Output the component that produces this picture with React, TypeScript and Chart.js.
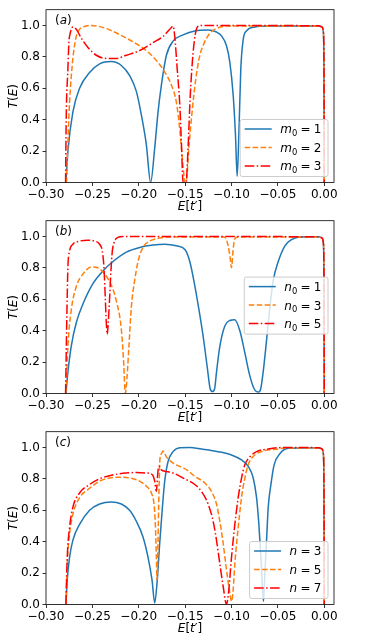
import React, { useEffect, useRef } from 'react';
import { Chart, registerables } from 'chart.js';
Chart.register(...registerables);

// ---------- axes ----------
const X_TICKS = [-0.3, -0.25, -0.2, -0.15, -0.1, -0.05, 0.0];
const Y_TICKS = [0, 0.2, 0.4, 0.6, 0.8, 1.0];
const X_MIN = -0.3;
const X_MAX = 0.0105;
const Y_MIN = 0;
const Y_MAX = 1.1;

// ---------- panel (a): m0 = 1, 2, 3 ----------
const eA1 = [-0.2785,-0.2764,-0.2710,-0.2638,-0.2530,-0.2422,-0.2296,-0.2188,-0.2098,-0.2026,-0.1972,-0.1918,-0.1872,-0.1828,-0.1792,-0.1756,-0.1702,-0.1630,-0.1522,-0.1396,-0.1252,-0.1162,-0.1108,-0.1054,-0.1018,-0.0982,-0.0957,-0.0939,-0.0921,-0.0900,-0.0874,-0.0838,-0.0748,-0.0604,-0.0060,-0.0025,-0.0010,-0.0003,0];
const tA1 = [0,0.20,0.45,0.60,0.70,0.755,0.77,0.745,0.68,0.58,0.43,0.24,0.0,0.22,0.45,0.62,0.81,0.90,0.94,0.965,0.97,0.958,0.933,0.87,0.765,0.556,0.30,0.04,0.30,0.72,0.91,0.965,0.99,0.996,0.996,0.99,0.96,0.70,0];
const eA2 = [-0.2780,-0.2761,-0.2746,-0.2710,-0.2674,-0.2638,-0.2575,-0.2512,-0.2350,-0.2170,-0.1990,-0.1846,-0.1738,-0.1648,-0.1594,-0.1555,-0.1525,-0.1500,-0.1482,-0.1460,-0.1425,-0.1385,-0.1345,-0.1300,-0.1234,-0.1144,-0.1036,-0.0060,-0.0025,-0.0010,-0.0003,0];
const tA2 = [0,0.30,0.51,0.79,0.93,0.975,0.995,1.0,0.98,0.93,0.87,0.80,0.72,0.62,0.51,0.32,0.12,0.0,0.03,0.22,0.45,0.66,0.80,0.88,0.95,0.985,0.996,0.996,0.99,0.96,0.70,0];
const eA3 = [-0.2789,-0.2782,-0.2764,-0.2753,-0.2739,-0.2710,-0.2674,-0.2620,-0.2548,-0.2458,-0.2350,-0.2242,-0.2134,-0.1990,-0.1846,-0.1738,-0.1666,-0.1630,-0.1612,-0.1585,-0.1558,-0.1540,-0.1522,-0.1490,-0.1470,-0.1445,-0.1415,-0.1385,-0.1360,-0.1300,-0.0060,-0.0025,-0.0010,-0.0003,0];
const tA3 = [0,0.41,0.72,0.89,0.95,0.99,0.975,0.92,0.86,0.81,0.79,0.79,0.81,0.84,0.89,0.93,0.975,0.995,0.93,0.72,0.50,0.25,0.0,0.0,0.2,0.55,0.82,0.96,0.995,1.0,0.998,0.99,0.96,0.70,0];

// ---------- panel (b): n0 = 1, 3, 5 ----------
const eB1 = [-0.2785,-0.2764,-0.2728,-0.2674,-0.2602,-0.2494,-0.2386,-0.2278,-0.2134,-0.1990,-0.1846,-0.1720,-0.1594,-0.1500,-0.1450,-0.1400,-0.1350,-0.1300,-0.1260,-0.1230,-0.1205,-0.1182,-0.1162,-0.1126,-0.1072,-0.1018,-0.0965,-0.0910,-0.0860,-0.0810,-0.0760,-0.0730,-0.0705,-0.0685,-0.0659,-0.0622,-0.0586,-0.0550,-0.0496,-0.0424,-0.0352,-0.0280,-0.0060,-0.0025,-0.0010,-0.0003,0];
const tB1 = [0,0.135,0.30,0.45,0.57,0.70,0.78,0.84,0.90,0.93,0.945,0.95,0.94,0.915,0.84,0.70,0.53,0.34,0.16,0.03,0.012,0.03,0.135,0.30,0.43,0.465,0.47,0.40,0.27,0.13,0.035,0.012,0.01,0.03,0.135,0.34,0.55,0.72,0.84,0.94,0.98,0.995,0.998,0.99,0.96,0.70,0];
const eB2 = [-0.2785,-0.2764,-0.2728,-0.2674,-0.2602,-0.2512,-0.2440,-0.2368,-0.2296,-0.2242,-0.2188,-0.2163,-0.2145,-0.2127,-0.2106,-0.2080,-0.2044,-0.2008,-0.1954,-0.1882,-0.1774,-0.1630,-0.1080,-0.1040,-0.1015,-0.1000,-0.0985,-0.0965,-0.0930,-0.0060,-0.0025,-0.0010,-0.0003,0];
const tB2 = [0,0.30,0.53,0.68,0.76,0.805,0.80,0.76,0.69,0.59,0.41,0.20,0.0,0.10,0.30,0.55,0.72,0.84,0.93,0.97,0.99,0.997,0.997,0.95,0.865,0.80,0.90,0.985,0.997,0.997,0.99,0.96,0.70,0];
const eB3 = [-0.2789,-0.2775,-0.2764,-0.2746,-0.2710,-0.2638,-0.2548,-0.2476,-0.2422,-0.2393,-0.2375,-0.2361,-0.2350,-0.2339,-0.2329,-0.2314,-0.2300,-0.2285,-0.2260,-0.2224,-0.2170,-0.0060,-0.0025,-0.0010,-0.0003,0];
const tB3 = [0,0.50,0.80,0.906,0.95,0.97,0.975,0.97,0.95,0.906,0.80,0.61,0.45,0.375,0.45,0.61,0.78,0.906,0.97,0.994,1.0,0.998,0.99,0.96,0.70,0];

// ---------- panel (c): n = 3, 5, 7 ----------
const eC1 = [-0.2785,-0.2771,-0.2746,-0.2710,-0.2638,-0.2530,-0.2422,-0.2296,-0.2188,-0.2098,-0.2026,-0.1954,-0.1900,-0.1857,-0.1828,-0.1803,-0.1774,-0.1745,-0.1720,-0.1684,-0.1630,-0.1558,-0.1450,-0.1324,-0.1144,-0.1000,-0.0892,-0.0820,-0.0766,-0.0730,-0.0705,-0.0683,-0.0665,-0.0655,-0.0640,-0.0622,-0.0604,-0.0576,-0.0540,-0.0479,-0.0388,-0.0060,-0.0025,-0.0010,-0.0003,0];
const tC1 = [0,0.157,0.30,0.41,0.51,0.60,0.64,0.653,0.64,0.60,0.53,0.43,0.30,0.157,0.01,0.136,0.39,0.62,0.785,0.91,0.973,0.998,1.0,0.99,0.973,0.952,0.92,0.88,0.805,0.68,0.51,0.30,0.094,0.02,0.20,0.41,0.62,0.76,0.89,0.96,0.994,0.998,0.99,0.96,0.70,0];
const eC2 = [-0.2785,-0.2771,-0.2746,-0.2710,-0.2638,-0.2530,-0.2422,-0.2314,-0.2206,-0.2098,-0.1990,-0.1918,-0.1864,-0.1836,-0.1821,-0.1810,-0.1803,-0.1792,-0.1782,-0.1771,-0.1756,-0.1738,-0.1702,-0.1630,-0.1522,-0.1477,-0.1396,-0.1288,-0.1216,-0.1162,-0.1126,-0.1090,-0.1054,-0.1018,-0.1000,-0.0982,-0.0964,-0.0928,-0.0892,-0.0856,-0.0820,-0.0784,-0.0730,-0.0640,-0.0496,-0.0424,-0.0060,-0.0025,-0.0010,-0.0003,0];
const tC2 = [0,0.26,0.45,0.575,0.68,0.74,0.785,0.805,0.81,0.805,0.785,0.753,0.71,0.64,0.51,0.30,0.157,0.41,0.72,0.93,0.96,0.977,0.94,0.90,0.87,0.855,0.816,0.774,0.72,0.64,0.53,0.39,0.22,0.073,0.02,0.094,0.26,0.49,0.68,0.805,0.89,0.93,0.96,0.98,0.99,0.997,0.997,0.99,0.96,0.70,0];
const eC3 = [-0.2785,-0.2771,-0.2746,-0.2710,-0.2638,-0.2530,-0.2422,-0.2314,-0.2170,-0.2026,-0.1918,-0.1853,-0.1828,-0.1810,-0.1796,-0.1785,-0.1756,-0.1702,-0.1630,-0.1522,-0.1396,-0.1324,-0.1252,-0.1198,-0.1162,-0.1126,-0.1090,-0.1054,-0.1029,-0.1000,-0.0964,-0.0928,-0.0892,-0.0856,-0.0802,-0.0730,-0.0604,-0.0424,-0.0060,-0.0025,-0.0010,-0.0003,0];
const tC3 = [0,0.30,0.49,0.62,0.71,0.764,0.80,0.82,0.835,0.84,0.837,0.826,0.785,0.72,0.826,0.88,0.857,0.847,0.837,0.805,0.764,0.72,0.64,0.53,0.41,0.26,0.115,0.0,0.094,0.30,0.51,0.68,0.805,0.89,0.94,0.973,0.99,1.0,0.998,0.99,0.96,0.70,0];

// ---------- legend labels ----------
const LABELS_A = ['1', '2', '3'];
const LABELS_B = ['1', '3', '5'];
const LABELS_C = ['3', '5', '7'];

const BLUE = '#1f77b4';
const ORANGE = '#ff7f0e';
const RED = '#ff0000';
const DASH_SOLID: number[] = [];
const DASH_DASHED = [5.55, 2.4];
const DASH_DASHDOT = [9.6, 2.4, 1.5, 2.4];
const STYLES = [
  { color: BLUE, dash: DASH_SOLID },
  { color: ORANGE, dash: DASH_DASHED },
  { color: RED, dash: DASH_DASHDOT },
];

const FAMILY = '"DejaVu Sans"';

type Run = { t: string; it?: boolean; sub?: boolean; gap?: number };

function runFont(r: Run, size: number) {
  const s = r.sub ? size * 0.7 : size;
  return `${r.it ? 'italic ' : ''}${s}px ${FAMILY}`;
}
function runsWidth(ctx: CanvasRenderingContext2D, runs: Run[], size: number) {
  let w = 0;
  for (const r of runs) {
    ctx.font = runFont(r, size);
    w += (r.gap || 0) + ctx.measureText(r.t).width;
  }
  return w;
}
function drawRuns(ctx: CanvasRenderingContext2D, runs: Run[], x: number, baseline: number, size: number) {
  let cx = x;
  ctx.textBaseline = 'alphabetic';
  ctx.textAlign = 'left';
  for (const r of runs) {
    cx += r.gap || 0;
    ctx.font = runFont(r, size);
    ctx.fillText(r.t, cx, baseline + (r.sub ? size * 0.22 : 0));
    cx += ctx.measureText(r.t).width;
  }
}

function legendRuns(sym: string, sub: string | null, val: string): Run[] {
  const runs: Run[] = [{ t: sym, it: true }];
  if (sub) runs.push({ t: sub, sub: true });
  runs.push({ t: '=', gap: 3.3 });
  runs.push({ t: val, gap: 3.3 });
  return runs;
}

const decorPlugin = {
  id: 'decor',
  afterDraw(chart: any, _args: any, opts: any) {
    const ctx: CanvasRenderingContext2D = chart.ctx;
    const ca = chart.chartArea;
    ctx.save();
    ctx.fillStyle = '#000';
    // frame
    ctx.setLineDash([]);
    ctx.strokeStyle = '#000';
    ctx.lineWidth = 0.8;
    ctx.strokeRect(ca.left, ca.top, ca.right - ca.left, ca.bottom - ca.top);

    // panel label
    drawRuns(ctx, [{ t: '(' }, { t: opts.panel, it: true }, { t: ')' }], ca.left + 9, ca.top + 14.5, 12);

    // x title
    const xr: Run[] = [{ t: 'E', it: true }, { t: '[' }, { t: 't', it: true }, { t: '\u2032' }, { t: ']' }];
    const xw = runsWidth(ctx, xr, 12);
    drawRuns(ctx, xr, (ca.left + ca.right) / 2 - xw / 2, ca.bottom + 27.5, 12);

    // y title
    const yr: Run[] = [{ t: 'T', it: true }, { t: '(' }, { t: 'E', it: true }, { t: ')' }];
    const yw = runsWidth(ctx, yr, 12);
    ctx.save();
    ctx.translate(12.5, (ca.top + ca.bottom) / 2);
    ctx.rotate(-Math.PI / 2);
    drawRuns(ctx, yr, -yw / 2, 4.4, 12);
    ctx.restore();

    // legend
    const items = opts.items as { runs: Run[]; color: string; dash: number[] }[];
    const tw = Math.max(...items.map((e) => runsWidth(ctx, e.runs, 12)));
    const w = 4.5 + 27 + 8.5 + tw + 6.5;
    const h = 57;
    const right = ca.right - 6;
    const left = right - w;
    const top = opts.loc === 'center right' ? (ca.top + ca.bottom) / 2 - h / 2 - 1.5 : ca.bottom - 6 - h;
    ctx.beginPath();
    (ctx as any).roundRect(left, top, w, h, 2);
    ctx.fillStyle = 'rgba(255,255,255,0.8)';
    ctx.fill();
    ctx.strokeStyle = '#cccccc';
    ctx.lineWidth = 1;
    ctx.stroke();
    items.forEach((e, i) => {
      const yc = top + 9.5 + i * 18.5;
      ctx.beginPath();
      ctx.setLineDash(e.dash);
      ctx.lineDashOffset = 0;
      ctx.strokeStyle = e.color;
      ctx.lineWidth = 1.5;
      ctx.lineCap = 'butt';
      ctx.moveTo(left + 4.5, yc);
      ctx.lineTo(left + 31.5, yc);
      ctx.stroke();
      ctx.setLineDash([]);
      ctx.fillStyle = '#000';
      drawRuns(ctx, e.runs, left + 40, yc + 4.4, 12);
    });
    ctx.restore();
  },
};

function fmtX(v: number) {
  const s = Math.abs(v) < 1e-9 ? '0.00' : v.toFixed(2);
  return s.replace('-', '\u2212');
}
function fmtY(v: number) {
  return v.toFixed(1);
}

type Series = { e: number[]; t: number[] };

function Panel(props: {
  top: number;
  series: Series[];
  panel: string;
  sym: string;
  sub: string | null;
  labels: string[];
  loc: string;
}) {
  const ref = useRef<HTMLCanvasElement>(null);
  useEffect(() => {
    const canvas = ref.current!;
    const items = props.labels.map((v, i) => ({
      runs: legendRuns(props.sym, props.sub, v),
      color: STYLES[i].color,
      dash: STYLES[i].dash,
    }));
    const chart = new Chart(canvas, {
      type: 'line',
      data: {
        datasets: props.series.map((s, i) => ({
          data: s.e.map((x, k) => ({ x, y: s.t[k] })),
          borderColor: STYLES[i].color,
          borderWidth: 1.5,
          borderDash: STYLES[i].dash,
          borderJoinStyle: 'round',
          borderCapStyle: 'butt',
          pointRadius: 0,
          pointHoverRadius: 0,
          cubicInterpolationMode: 'monotone',
          fill: false,
          clip: 0,
          order: 3 - i,
        })) as any,
      },
      options: {
        responsive: false,
        animation: false,
        devicePixelRatio: 1,
        events: [],
        layout: { padding: { left: 0, top: 6, right: 37, bottom: 0 } },
        plugins: {
          legend: { display: false },
          tooltip: { enabled: false },
          decor: { panel: props.panel, items, loc: props.loc },
        } as any,
        scales: {
          x: {
            type: 'linear',
            min: X_MIN,
            max: X_MAX,
            afterBuildTicks: (s: any) => {
              s.ticks = X_TICKS.map((v) => ({ value: v }));
            },
            afterFit: (s: any) => {
              s.height = 29.5;
            },
            ticks: {
              callback: (v: any) => fmtX(Number(v)),
              font: { size: 12, family: 'DejaVu Sans' },
              color: '#000',
              padding: 1.5,
              maxRotation: 0,
              autoSkip: false,
            },
            grid: { drawOnChartArea: false, drawTicks: true, tickLength: 3.5, tickWidth: 0.8, tickColor: '#000' },
            border: { display: false },
          },
          y: {
            type: 'linear',
            min: Y_MIN,
            max: Y_MAX,
            afterBuildTicks: (s: any) => {
              s.ticks = Y_TICKS.map((v) => ({ value: v }));
            },
            afterFit: (s: any) => {
              s.width = 46;
            },
            ticks: {
              callback: (v: any) => fmtY(Number(v)),
              font: { size: 12, family: 'DejaVu Sans' },
              color: '#000',
              padding: 2.5,
              autoSkip: false,
            },
            grid: { drawOnChartArea: false, drawTicks: true, tickLength: 3.5, tickWidth: 0.8, tickColor: '#000' },
            border: { display: false },
          },
        } as any,
      },
      plugins: [decorPlugin as any],
    });
    return () => chart.destroy();
  }, []);
  return (
    <canvas
      ref={ref}
      width={371}
      height={212}
      style={{ position: 'absolute', left: 0, top: props.top, width: 371, height: 212 }}
    />
  );
}

export default function App() {
  return (
    <div style={{ position: 'absolute', left: 0, top: 0, width: 371, height: 636, background: '#ffffff' }}>
      <Panel
        top={0}
        panel="a"
        sym="m"
        sub="0"
        labels={LABELS_A}
        loc="lower right"
        series={[
          { e: eA1, t: tA1 },
          { e: eA2, t: tA2 },
          { e: eA3, t: tA3 },
        ]}
      />
      <Panel
        top={211}
        panel="b"
        sym="n"
        sub="0"
        labels={LABELS_B}
        loc="center right"
        series={[
          { e: eB1, t: tB1 },
          { e: eB2, t: tB2 },
          { e: eB3, t: tB3 },
        ]}
      />
      <Panel
        top={422}
        panel="c"
        sym="n"
        sub={null}
        labels={LABELS_C}
        loc="lower right"
        series={[
          { e: eC1, t: tC1 },
          { e: eC2, t: tC2 },
          { e: eC3, t: tC3 },
        ]}
      />
    </div>
  );
}
